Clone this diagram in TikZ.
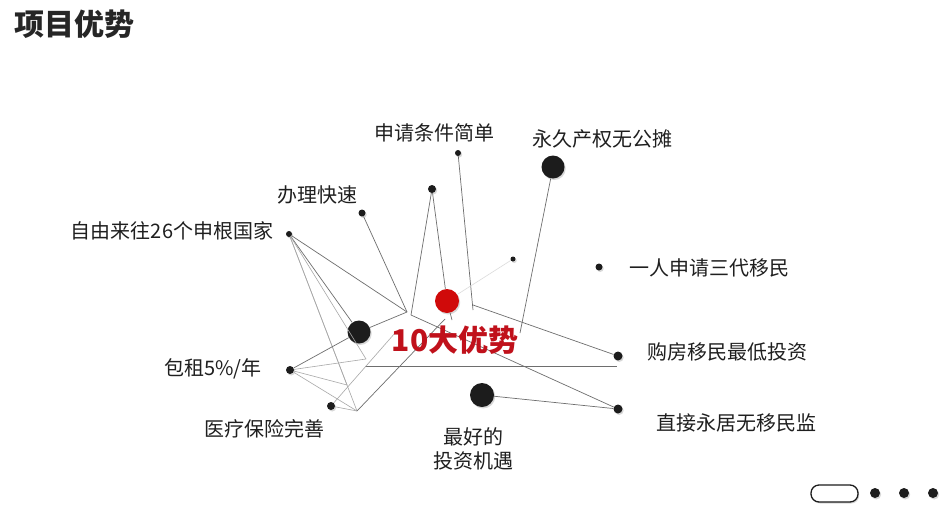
\documentclass[tikz,border=0pt]{standalone}
\usepackage{fontspec}
\setmainfont{Noto Sans CJK SC}
\usetikzlibrary{shadows}
\definecolor{dotblack}{HTML}{1C1C1C}
\definecolor{dotred}{HTML}{D00A0A}
\definecolor{coretext}{HTML}{C0111B}
\definecolor{webgray}{HTML}{6E6E6E}
\definecolor{weblight}{HTML}{A8A8A8}
\definecolor{webfaint}{HTML}{DCDCDC}
\begin{document}
\begin{tikzpicture}[x=1pt,y=-1pt,
  dot/.style={circle,fill=dotblack,inner sep=0pt,minimum size=#1,
    drop shadow={shadow xshift=1.2pt,shadow yshift=-1.5pt,opacity=0.3}},
  lbl/.style={font=\fontsize{20}{24}\selectfont,text=black!88,inner sep=0pt},
  web/.style={draw=webgray,line width=0.7pt},
  weblight/.style={draw=weblight,line width=0.6pt},
  webfaint/.style={draw=webfaint,line width=0.6pt}]
\fill[white] (0,0) rectangle (952,514);
\useasboundingbox (0,0) rectangle (952,514);

\node[font=\fontsize{30}{34}\selectfont\bfseries,text=black!85] (title) at (74,24) {项目优势};

\node[dot=23pt] (yongjiu) at (553,167) {};
\node[dot=6pt] (shenqing) at (458,153) {};
\node[dot=8pt] (peak) at (432,189) {};
\node[dot=7pt] (banli) at (362,213) {};
\node[dot=6pt] (ziyou) at (289,234) {};
\node[dot=5pt] (spark) at (513,259) {};
\node[dot=7pt] (yiren) at (599,267) {};
\node[dot=24pt,fill=dotred] (core) at (447,301) {};
\node[dot=23pt] (bigleft) at (359,332) {};
\node[dot=9pt] (goufang) at (618,356) {};
\node[dot=8pt] (baozu) at (290,370) {};
\node[dot=24pt] (zuihao) at (482,395) {};
\node[dot=8pt] (yiliao) at (331,406) {};
\node[dot=9pt] (zhijie) at (618,409) {};

\coordinate (hubA) at (407,312);
\coordinate (hubB) at (411,315);
\coordinate (hubC) at (452,320);
\coordinate (hubD) at (473,310);
\coordinate (hubE) at (473,305);
\coordinate (hubF) at (520,333);
\coordinate (hubG) at (357,411);
\coordinate (hubH) at (347,385);
\coordinate (hubI) at (366,359);
\coordinate (hubJ) at (365,366);
\coordinate (hubK) at (395,333);
\coordinate (hubL) at (445,319);
\coordinate (hubM) at (617,366);

\draw[web] (shenqing) -- (hubD);
\draw[web] (hubE) -- (goufang);
\draw[web] (yongjiu) -- (hubF);
\draw[web] (peak) -- (hubB);
\draw[web] (peak) -- (core);
\draw[web] (core) -- (hubC);
\draw[web] (banli) -- (hubA);
\draw[web] (ziyou) -- (hubA);
\draw[web] (ziyou) -- (bigleft);
\draw[weblight] (ziyou) -- (hubI);
\draw[weblight] (ziyou) -- (hubH);
\draw[weblight] (ziyou) -- (hubG);
\draw[web] (bigleft) -- (hubA);
\draw[web] (hubB) -- (zhijie);
\draw[web] (hubJ) -- (hubM);
\draw[web] (zuihao) -- (zhijie);
\draw[web] (baozu) -- (bigleft);
\draw[weblight] (baozu) -- (hubI);
\draw[weblight] (baozu) -- (hubH);
\draw[weblight] (baozu) -- (hubG);
\draw[weblight] (yiliao) -- (hubK);
\draw[weblight] (yiliao) -- (hubG);
\draw[web] (hubG) -- (hubL);
\draw[webfaint] (spark) -- (core);

\node[font=\fontsize{30}{34}\selectfont\bfseries,text=coretext] (core-text) at (455,340) {10大优势};

\node[lbl] (t-shenqing) at (434,133) {申请条件简单};
\node[lbl] (t-yongjiu) at (602,139) {永久产权无公摊};
\node[lbl] (t-banli) at (317,195) {办理快速};
\node[lbl] (t-ziyou) at (172,231) {自由来往26个申根国家};
\node[lbl] (t-yiren) at (709,268) {一人申请三代移民};
\node[lbl] (t-goufang) at (727,352) {购房移民最低投资};
\node[lbl] (t-zhijie) at (736,423) {直接永居无移民监};
\node[lbl,align=center] (t-zuihao) at (473,449) {最好的\\投资机遇};
\node[lbl] (t-baozu) at (213,369) {包租5\%/年};
\node[lbl] (t-yiliao) at (264,429) {医疗保险完善};

\node[draw=dotblack,line width=1.3pt,rounded corners=8pt,fill=white,
  minimum width=47pt,minimum height=17pt,inner sep=0pt,
  drop shadow={shadow xshift=1.2pt,shadow yshift=-1.5pt,opacity=0.3}] (pager) at (834.5,493.5) {};
\node[dot=10pt] (pageA) at (875,493) {};
\node[dot=10pt] (pageB) at (904,493) {};
\node[dot=10pt] (pageC) at (933,493) {};
\end{tikzpicture}
\end{document}
